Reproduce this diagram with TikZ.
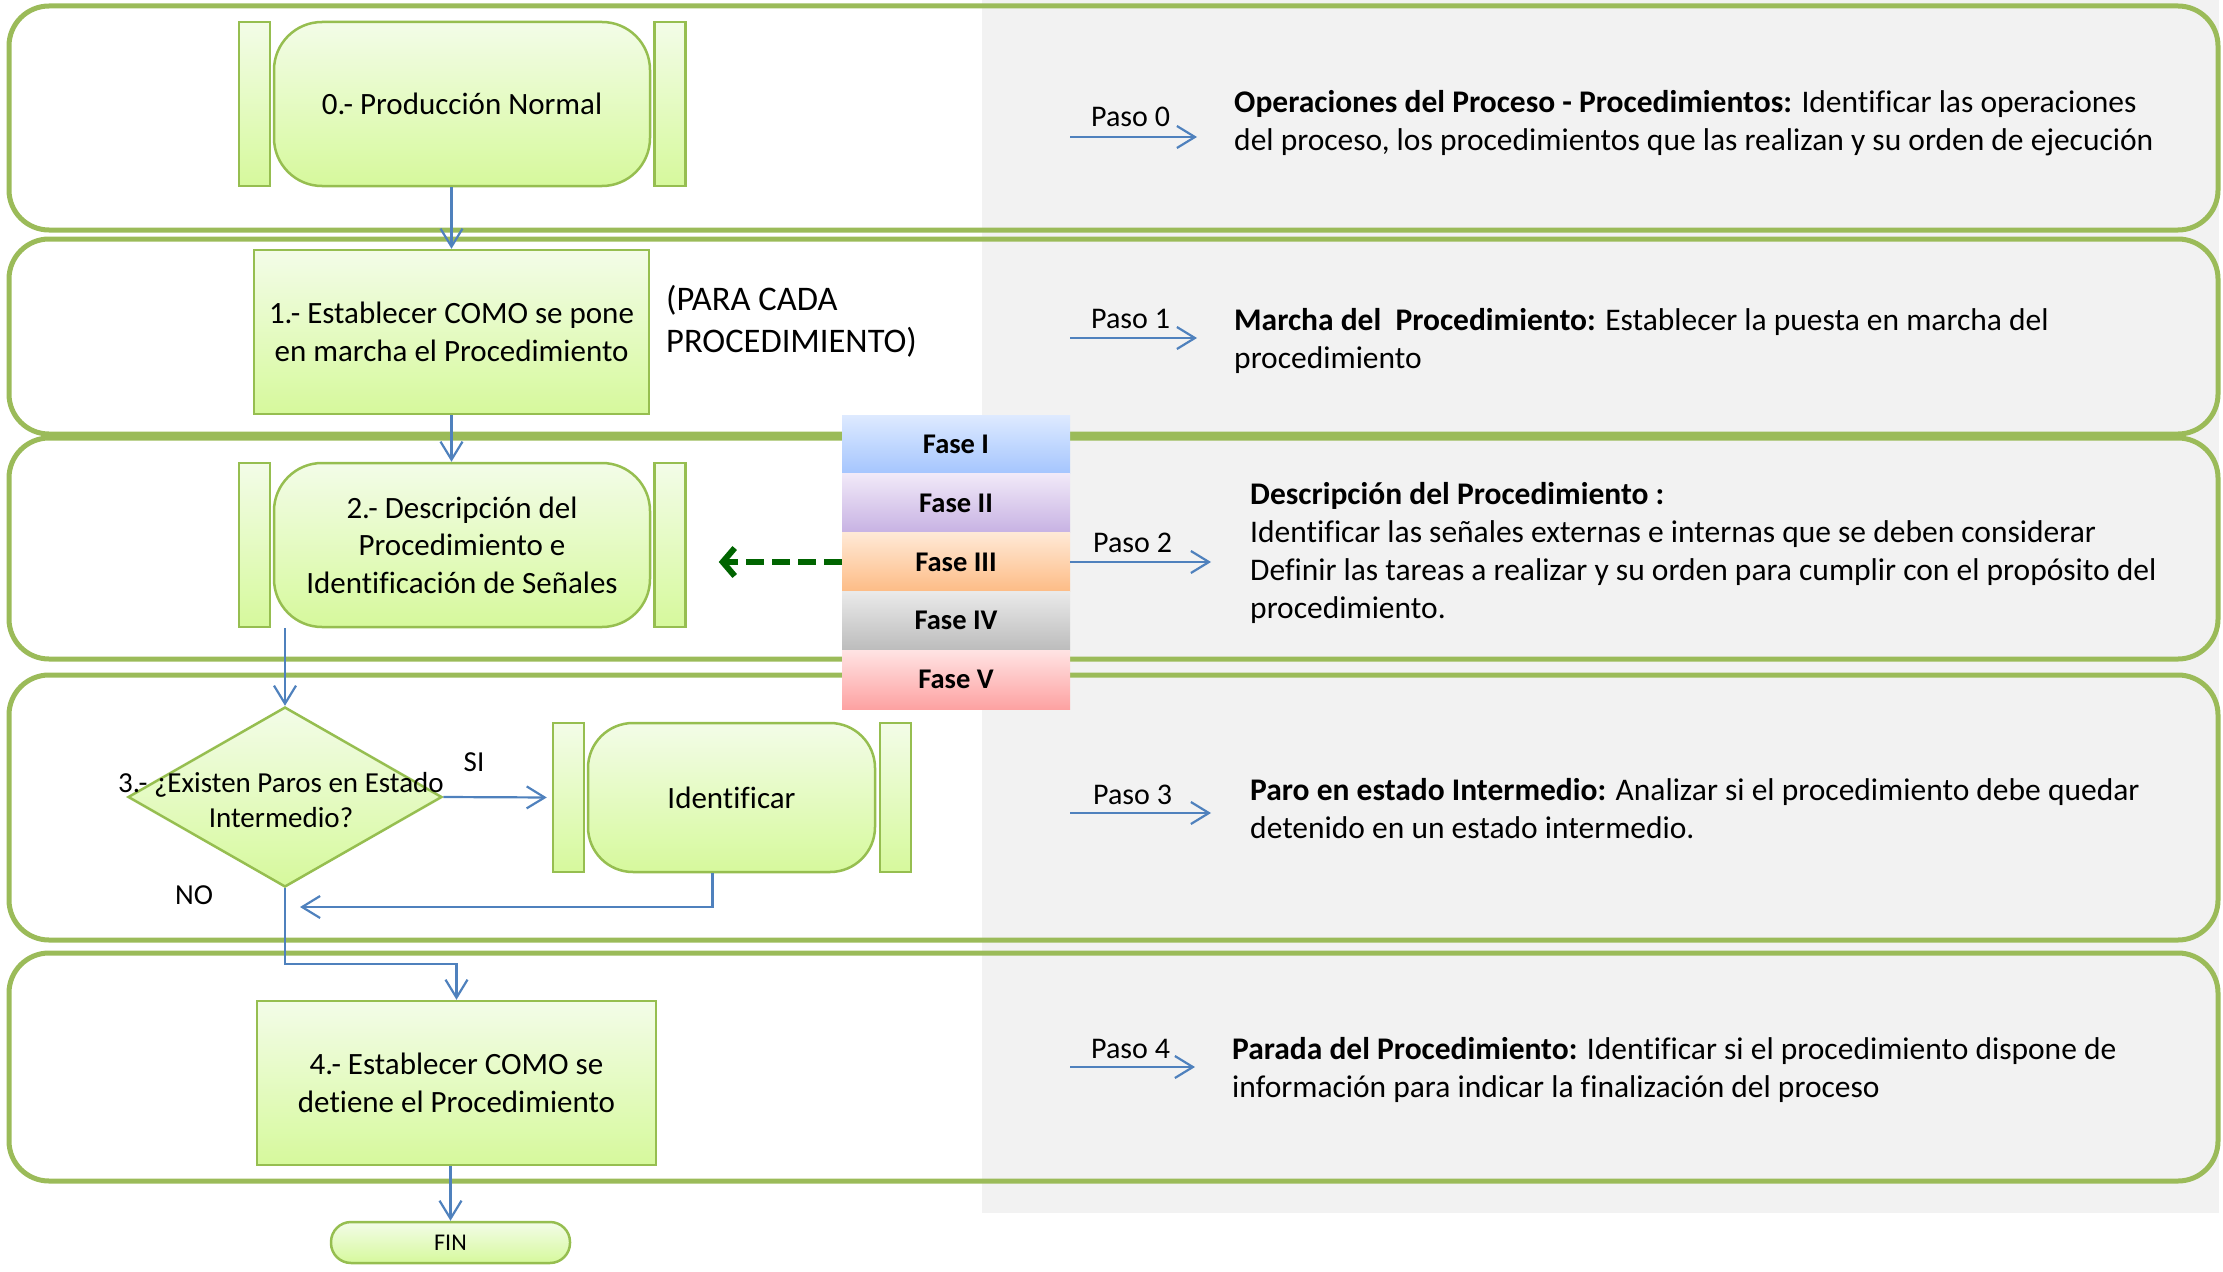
\documentclass[tikz,border=0pt]{standalone}
\usepackage{fontspec}
\setmainfont{Carlito}[RawFeature={-liga}]
\usetikzlibrary{arrows.meta,shapes.geometric,calc}

\definecolor{lanegreen}{RGB}{155,187,89}
\definecolor{boxline}{RGB}{150,190,80}
\definecolor{boxtop}{RGB}{243,252,232}
\definecolor{boxbot}{RGB}{214,249,156}
\definecolor{flowblue}{RGB}{79,129,189}
\definecolor{graybg}{RGB}{242,242,242}
\definecolor{darkgreen}{RGB}{0,100,0}
\definecolor{f1top}{RGB}{222,234,255}\definecolor{f1bot}{RGB}{164,197,254}
\definecolor{f2top}{RGB}{241,233,248}\definecolor{f2bot}{RGB}{199,178,227}
\definecolor{f3top}{RGB}{255,233,214}\definecolor{f3bot}{RGB}{253,188,134}
\definecolor{f4top}{RGB}{234,234,234}\definecolor{f4bot}{RGB}{188,188,188}
\definecolor{f5top}{RGB}{255,227,227}\definecolor{f5bot}{RGB}{253,162,162}

\tikzset{
  lane/.style={draw=lanegreen, line width=5pt, rounded corners=40pt},
  shapebox/.style={draw=boxline, line width=2.5pt, top color=boxtop, bottom color=boxbot,
    inner sep=0pt, align=center, font=\fontsize{31}{37.5}\selectfont},
  procbody/.style={shapebox, rounded corners=48pt, minimum width=376pt, minimum height=164pt},
  sidebar/.style={shapebox, minimum width=31pt, minimum height=164pt},
  flow/.style={draw=flowblue, line width=2.2pt, -{Straight Barb[length=18pt,width=22pt]}},
  fase/.style={inner sep=0pt, minimum width=228pt, minimum height=58.8pt,
    font=\fontsize{28.5}{32}\selectfont\bfseries},
  % multi-line text is placed by the baseline of its last line
  desc/.style={anchor=base west, inner sep=0pt, align=left, font=\fontsize{31.5}{38}\selectfont},
  pasolbl/.style={anchor=base west, inner sep=0pt, font=\fontsize{30}{36}\selectfont},
  plain/.style={inner sep=0pt, font=\fontsize{29}{35}\selectfont, align=center}
}

\begin{document}
\begin{tikzpicture}[x=1pt,y=-1pt]
\useasboundingbox (0,0) rectangle (2223,1271);

% shaded description column
\fill[graybg] (982,0) rectangle (2219,1213);

% swim lanes
\draw[lane] (9,6) rectangle (2218,230);
\draw[lane] (9,239) rectangle (2218,434);
\draw[lane] (9,438) rectangle (2218,659);
\draw[lane] (9,675) rectangle (2218,940);
\draw[lane] (9,953) rectangle (2218,1181);

% step 0: predefined process
\node[procbody] (p0) at (462,104) {0.- Producción Normal};
\node[sidebar] (p0L) at (254.5,104) {};
\node[sidebar] (p0R) at (670,104) {};

% step 1
\node[shapebox, minimum width=395pt, minimum height=164pt] (p1) at (451.5,332)
  {1.- Establecer COMO se pone\\en marcha el Procedimiento};
\node[anchor=base west, inner sep=0pt, align=left, font=\fontsize{34.5}{42}\selectfont] (note)
  at (666,352) {(PARA CADA\\PROCEDIMIENTO)};

% step 2
\node[procbody] (p2) at (462,545) {2.- Descripción del\\Procedimiento e\\Identificación de Señales};
\node[sidebar] (p2L) at (254.5,545) {};
\node[sidebar] (p2R) at (670,545) {};

% step 3: decision
\node[draw=boxline, line width=2.5pt, top color=boxtop, bottom color=boxbot, diamond,
  inner sep=0pt, minimum width=314pt, minimum height=180pt] (d3) at (285,797) {};
\node[plain] (d3t) at (281,800) {3.- ¿Existen Paros en Estado\\Intermedio?};
\node[plain] (si) at (474,762) {SI};
\node[plain] (no) at (194,895) {NO};

\node[procbody, minimum width=287pt, minimum height=149pt, rounded corners=45pt] (id) at (731.5,797.5) {Identificar};
\node[sidebar, minimum height=149pt] (idL) at (568.5,797.5) {};
\node[sidebar, minimum height=149pt] (idR) at (895.5,797.5) {};

% step 4
\node[shapebox, minimum width=399pt, minimum height=164pt] (p4) at (456.5,1083)
  {4.- Establecer COMO se\\detiene el Procedimiento};

% end terminator
\node[shapebox, minimum width=239pt, minimum height=41pt, rounded corners=20pt,
  font=\fontsize{24}{28}\selectfont] (fin) at (450.5,1242.5) {FIN};

% flow connectors
\draw[flow] (p1.north |- p0.south) -- (p1.north);
\draw[flow] (p1.south) -- (p1.south |- p2.north);
\draw[flow] (d3.north |- p2.south) -- (d3.north);
\draw[flow, shorten >=5pt] (d3.east) -- (idL.west);
\coordinate (ret) at (300,907);
\draw[flow] ([xshift=-19pt]id.south) |- (ret);
\coordinate (j4) at (456.5,964);
\draw[flow] (d3.south) |- (j4) -- (p4.north);
\draw[flow] (fin.north |- p4.south) -- (fin.north);

% phase stack
\node[fase, top color=f1top, bottom color=f1bot] (f1) at (956,444.4) {Fase I};
\node[fase, top color=f2top, bottom color=f2bot] (f2) at (956,503.2) {Fase II};
\node[fase, top color=f3top, bottom color=f3bot] (f3) at (956,562) {Fase III};
\node[fase, top color=f4top, bottom color=f4bot] (f4) at (956,620.8) {Fase IV};
\node[fase, top color=f5top, bottom color=f5bot] (f5) at (956,679.6) {Fase V};

\draw[darkgreen, line width=6pt, dash pattern=on 18pt off 8pt, shorten >=32pt,
  -{Straight Barb[length=12pt,width=28pt]}] (f3.west) -- (f3.west -| p2R.east);

% step descriptions
\coordinate (a0s) at (1070,137); \coordinate (a0e) at (1197,137);
\coordinate (a1s) at (1070,338); \coordinate (a1e) at (1197,338);
\coordinate (a3s) at (1070,813); \coordinate (a3e) at (1211,813);
\coordinate (a4s) at (1070,1067); \coordinate (a4e) at (1195,1067);
\coordinate (a2e) at (1211,562);

\draw[flow] (a0s) -- (a0e);
\draw[flow] (a1s) -- (a1e);
\draw[flow] (f3.east) -- (a2e);
\draw[flow] (a3s) -- (a3e);
\draw[flow] (a4s) -- (a4e);

\node[pasolbl] (l0) at (1091,127) {Paso 0};
\node[pasolbl] (l1) at (1091,328) {Paso 1};
\node[pasolbl] (l2) at (1093,552) {Paso 2};
\node[pasolbl] (l3) at (1093,804) {Paso 3};
\node[pasolbl] (l4) at (1091,1058) {Paso 4};

\node[desc] (t0) at (1234,150) {\textbf{Operaciones del Proceso - Procedimientos:} Identificar las operaciones\\del proceso, los procedimientos que las realizan y su orden de ejecución};
\node[desc] (t1) at (1234,368) {\textbf{Marcha del~ Procedimiento:} Establecer la puesta en marcha del\\procedimiento};
\node[desc] (t2) at (1250,618) {\textbf{Descripción del Procedimiento :}\\Identificar las señales externas e internas que se deben considerar\\Definir las tareas a realizar y su orden para cumplir con el propósito del\\procedimiento.};
\node[desc] (t3) at (1250,838) {\textbf{Paro en estado Intermedio:} Analizar si el procedimiento debe quedar\\detenido en un estado intermedio.};
\node[desc] (t4) at (1232,1097) {\textbf{Parada del Procedimiento:} Identificar si el procedimiento dispone de\\información para indicar la finalización del proceso};
\end{tikzpicture}
\end{document}
